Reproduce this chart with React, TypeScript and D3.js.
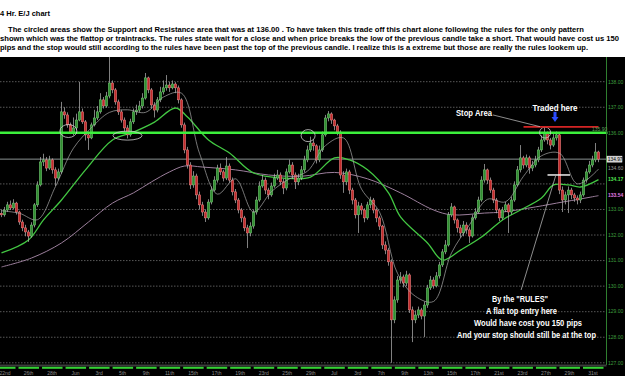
import React from "react";
import * as d3 from "d3";

// ---- OHLC data (4h candles, EUR/JPY) ----
const opens = [
  132.85,132.79,132.98,133.18,133.06,133.25,132.90,132.51,132.28,132.12,
  131.96,132.39,133.18,133.96,134.86,134.94,134.62,134.94,134.55,134.23,
  134.47,136.82,136.70,136.31,136.03,136.19,136.50,136.82,136.43,135.92,
  135.80,136.31,136.58,136.82,137.29,137.05,137.44,137.95,137.68,137.21,
  136.82,136.50,136.19,135.92,136.43,136.82,136.89,137.05,137.36,138.15,
  137.68,137.09,136.89,137.29,137.60,137.76,137.87,137.76,137.91,137.76,
  137.29,136.31,135.33,134.74,133.96,134.31,133.57,133.18,132.90,132.67,
  133.29,133.76,134.15,134.62,134.47,134.23,134.70,134.15,133.69,133.37,
  132.98,132.67,132.28,132.08,132.35,132.90,133.37,133.92,134.15,133.76,
  133.57,133.92,134.23,134.35,134.08,133.84,134.47,134.74,134.35,134.08,
  134.23,134.55,134.94,135.33,135.60,135.49,134.94,135.33,135.92,136.58,
  136.74,136.50,136.27,136.03,134.35,134.08,134.47,133.76,133.37,132.79,
  133.14,132.98,132.67,133.18,133.37,132.98,132.67,132.35,131.61,131.41,
  130.95,128.68,129.46,130.24,130.36,130.12,130.44,129.07,128.68,128.87,
  129.07,128.83,129.26,129.93,130.24,130.01,130.40,130.83,131.34,131.61,
  132.79,133.10,132.59,132.28,132.08,132.39,132.20,131.96,132.67,132.90,
  133.37,134.15,134.55,134.15,133.76,133.37,132.98,132.67,132.98,133.18,
  132.90,133.37,133.96,134.55,135.02,134.74,135.02,134.62,134.74,134.94,
  135.33,135.72,135.99,135.72,135.52,135.80,135.92,133.76,133.37,133.57,
  133.76,133.57,133.45,133.37,133.57,134.15,134.47,134.74,134.94,135.25,
];
const closes = [
  132.79,132.98,133.18,133.06,133.25,132.90,132.51,132.28,132.12,131.96,
  132.39,133.18,133.96,134.86,134.94,134.62,134.94,134.55,134.23,134.47,
  136.82,136.70,136.31,136.03,136.19,136.50,136.82,136.43,135.92,135.80,
  136.31,136.58,136.82,137.29,137.05,137.44,137.95,137.68,137.21,136.82,
  136.50,136.19,135.92,136.43,136.82,136.89,137.05,137.36,138.15,137.68,
  137.09,136.89,137.29,137.60,137.76,137.87,137.76,137.91,137.76,137.29,
  136.31,135.33,134.74,133.96,134.31,133.57,133.18,132.90,132.67,133.29,
  133.76,134.15,134.62,134.47,134.23,134.70,134.15,133.69,133.37,132.98,
  132.67,132.28,132.08,132.35,132.90,133.37,133.92,134.15,133.76,133.57,
  133.92,134.23,134.35,134.08,133.84,134.47,134.74,134.35,134.08,134.23,
  134.55,134.94,135.33,135.60,135.49,134.94,135.33,135.92,136.58,136.74,
  136.50,136.27,136.03,134.35,134.08,134.47,133.76,133.37,132.79,133.14,
  132.98,132.67,133.18,133.37,132.98,132.67,132.35,131.61,131.41,130.95,
  128.68,129.46,130.24,130.36,130.12,130.44,129.07,128.68,128.87,129.07,
  128.83,129.26,129.93,130.24,130.01,130.40,130.83,131.34,131.61,132.79,
  133.10,132.59,132.28,132.08,132.39,132.20,131.96,132.67,132.90,133.37,
  134.15,134.55,134.15,133.76,133.37,132.98,132.67,132.98,133.18,132.90,
  133.37,133.96,134.55,135.02,134.74,135.02,134.62,134.74,134.94,135.33,
  135.72,135.99,135.72,135.52,135.80,135.92,133.76,133.37,133.57,133.76,
  133.57,133.45,133.37,133.57,134.15,134.47,134.74,134.94,135.25,134.97,
];
const highs = [
  133.00,133.10,133.30,133.35,133.40,133.30,132.95,132.60,132.40,132.20,
  132.50,133.25,134.10,135.05,135.18,135.05,135.10,135.00,134.65,134.60,
  137.21,137.00,136.80,136.40,136.60,136.75,137.99,136.95,136.50,136.05,
  136.40,136.90,137.05,137.55,137.40,137.60,138.97,138.05,137.75,137.30,
  136.90,136.60,136.30,136.55,136.95,137.10,137.25,137.55,138.34,138.20,
  137.75,137.20,137.40,137.80,138.05,138.26,138.00,138.05,137.98,137.85,
  137.35,136.40,135.45,134.85,134.50,134.40,133.70,133.30,133.00,133.40,
  133.90,134.30,134.75,134.80,134.55,135.05,134.80,134.25,133.80,133.45,
  133.05,132.75,132.40,132.50,133.00,133.50,134.10,134.35,134.25,133.85,
  134.05,134.40,134.55,134.45,134.20,134.60,134.95,134.85,134.45,134.40,
  134.70,135.10,135.50,135.85,135.75,135.55,135.50,136.05,136.70,136.85,
  136.80,136.55,136.35,136.10,134.50,134.60,134.55,133.85,133.45,133.30,
  133.25,133.05,133.30,133.50,133.45,133.05,132.75,132.40,131.75,131.50,
  131.05,129.60,130.40,130.55,130.45,130.60,130.50,129.20,129.05,129.20,
  129.15,129.40,130.05,130.40,130.35,130.55,130.95,131.45,131.80,132.90,
  133.25,133.15,132.65,132.40,132.55,132.50,132.30,132.80,133.05,133.50,
  134.30,134.78,134.60,134.25,133.85,133.45,133.05,133.10,133.30,133.25,
  133.50,134.10,134.70,135.52,135.10,135.15,135.10,134.90,135.10,135.45,
  135.90,136.23,136.05,135.80,135.95,136.05,136.00,133.90,133.70,133.90,
  133.85,133.65,133.55,133.70,134.25,134.60,134.90,135.10,135.60,135.30,
];
const lows = [
  132.70,132.72,132.90,132.98,133.00,132.80,132.40,132.15,131.95,131.73,
  131.90,132.30,133.10,133.90,134.70,134.50,134.55,134.40,133.92,134.15,
  134.40,136.55,136.20,135.95,135.90,136.10,136.45,136.35,135.70,135.33,
  135.75,136.25,136.50,136.75,136.95,136.98,137.35,137.55,137.10,136.70,
  136.40,136.05,135.78,135.85,136.35,136.70,136.80,136.95,137.30,137.55,
  136.95,136.60,136.80,137.20,137.50,137.65,137.60,137.70,137.55,137.15,
  136.20,135.20,134.60,133.80,133.85,133.40,133.00,132.75,132.51,132.60,
  133.20,133.70,134.05,134.35,134.10,134.15,134.05,133.55,133.25,132.85,
  132.50,132.15,131.49,131.95,132.25,132.80,133.30,133.85,133.60,133.40,
  133.50,133.85,134.15,133.95,133.60,133.75,134.40,134.20,133.80,133.95,
  134.15,134.45,134.85,135.25,135.30,134.80,134.85,135.25,135.85,136.45,
  136.35,136.10,135.90,134.20,133.65,133.95,133.60,133.20,132.65,132.08,
  132.80,132.50,132.60,133.05,132.85,132.50,132.20,131.45,131.25,130.80,
  127.00,128.55,129.35,130.10,129.95,130.00,128.95,127.81,128.55,128.75,
  128.70,128.01,129.15,129.85,129.90,129.95,130.30,130.75,131.25,131.55,
  132.70,132.45,132.10,131.90,131.95,132.05,131.69,131.90,132.60,132.85,
  133.30,134.05,134.00,133.65,133.25,132.85,132.55,132.60,132.90,132.08,
  132.80,133.30,133.90,134.45,134.60,134.65,134.40,134.50,134.65,134.85,
  135.25,135.65,135.55,135.35,135.45,135.70,133.60,132.90,133.20,132.86,
  133.40,133.30,133.20,133.25,133.50,134.05,134.40,134.65,134.85,134.85,
];

// ---- Moving averages (candle index / price) ----
const fastMaIdx = [0,6,12,18,24,30,36,42,48,54,60,66,72,78,84,90,96,102,108,114,120,126,132,138,144,150,156,162,168,174,180,186,192,199];
const fastMaVal = [132.95,132.85,132.60,133.90,135.40,136.20,136.80,136.90,136.80,137.40,137.55,135.20,133.60,134.20,132.90,133.70,134.20,134.50,135.50,135.80,133.80,132.90,130.50,129.60,129.40,131.30,132.40,133.40,133.30,134.30,135.10,135.20,134.00,134.58];
const greenMaIdx = [0,9,14,20,28,37,44,51,58,62,69,76,84,94,103,111,116,122,129,133,142,147,153,160,167,173,180,184,189,193,199];
const greenMaVal = [131.30,131.81,132.59,133.37,134.55,135.72,136.03,136.42,136.97,136.62,135.72,135.21,134.43,134.23,134.27,135.02,134.94,134.55,133.65,132.71,131.69,131.02,131.41,131.92,132.59,132.98,133.45,133.96,133.96,133.88,134.17];
const slowMaIdx = [0,10,20,29,37,44,50,56,61,67,78,89,100,111,122,133,144,150,161,167,178,187,191,199];
const slowMaVal = [130.75,131.10,131.69,132.51,133.25,133.65,134.08,134.47,134.70,134.66,134.55,134.35,134.30,134.45,134.20,133.65,132.98,132.79,132.86,132.90,133.10,133.29,133.37,133.54];

// ---- Axis labels ----
const gridTicks = [127,128,129,130,131,132,133,134,136,137,138];
const labelTicks = [127,128,129,130,131,132,133,136,137,138];
const dateLabels = ["22nd","26th","28th","Jun","3rd","5th","9th","11th","15th","17th","19th","23rd","25th","29th","Jul","3rd","7th","9th","13th","15th","17th","21st","23rd","27th","29th","31st"];

// ---- Key levels ----
const supportLevel = 136.0;
const currentPrice = 134.97;
const stopLevel = 136.23;
const flatTopLevel = 134.35;

const titleText = "4 Hr. E/J chart";
const paragraph = [
  "The circled areas show the Support and Resistance area that was at 136.00 . To have taken this trade off this chart alone following the rules for the only pattern",
  "shown which was the flattop or traintracks.  The rules state wait for a close and when price breaks the low of the previous candle take a short. That would have cost us 150",
  "pips and the stop would still according to the rules have been past the top of the previous candle. I realize this is a extreme but those are really the rules lookem up.",
];
const rulesText = ["By the \"RULES\"", "A flat top entry here", "Would have cost you 150 pips", "And your stop should still be at the top"];

export default function App() {
  const W = 625, H = 376;
  const chartTop = 57;
  const axisX = 606.5;
  const n = closes.length;
  const x = d3.scaleLinear().domain([0, n - 1]).range([1.5, 598.5]);
  const y = d3.scaleLinear().domain([127, 138]).range([362.8, 81.7]);
  const dx = d3.scaleLinear().domain([0, dateLabels.length - 1]).range([5, 593]);
  const bw = 2.3;
  const font = "'Liberation Sans', Arial, sans-serif";

  const line = d3
    .line<[number, number]>()
    .x((d) => x(d[0]))
    .y((d) => y(d[1]))
    .curve(d3.curveCatmullRom.alpha(0.5));
  const fastPath = line(fastMaIdx.map((v, i) => [v, fastMaVal[i]]) as [number, number][]) || "";
  const greenPath = line(greenMaIdx.map((v, i) => [v, greenMaVal[i]]) as [number, number][]) || "";
  const slowPath = line(slowMaIdx.map((v, i) => [v, slowMaVal[i]]) as [number, number][]) || "";

  const circles = [
    { i: 22.3, p: 136.07, rx: 8.5, ry: 6.5 },
    { i: 42, p: 135.89, rx: 14.5, ry: 4.5 },
    { i: 102.2, p: 135.89, rx: 7, ry: 6 },
    { i: 181.2, p: 136.01, rx: 5.5, ry: 5.5 },
  ];

  const arrowX = x(184.5);
  const arrowTop = y(136.82);
  const arrowBot = y(136.42);

  return (
    <svg
      width={W}
      height={H}
      style={{ position: "fixed", left: 0, top: 0, background: "#fff" }}
      fontFamily={font}
    >
      {/* header text */}
      <text x={0} y={16} fontSize={8} fontWeight="bold" fill="#000" textLength={50} lengthAdjust="spacingAndGlyphs">
        {titleText}
      </text>
      <text x={8} y={32} fontSize={7.6} fontWeight="bold" fill="#000" textLength={576} lengthAdjust="spacingAndGlyphs">
        {paragraph[0]}
      </text>
      <text x={0} y={41} fontSize={7.6} fontWeight="bold" fill="#000" textLength={619} lengthAdjust="spacingAndGlyphs">
        {paragraph[1]}
      </text>
      <text x={0} y={50} fontSize={7.6} fontWeight="bold" fill="#000" textLength={588} lengthAdjust="spacingAndGlyphs">
        {paragraph[2]}
      </text>

      {/* chart background */}
      <rect x={0} y={chartTop} width={W} height={H - chartTop} fill="#000" />

      {/* gridlines */}
      {gridTicks.map((p) => (
        <line key={"g" + p} x1={0} x2={axisX} y1={y(p)} y2={y(p)} stroke="#6e6e6e" strokeWidth={0.8} strokeDasharray="1.5 1.5" />
      ))}
      <line x1={0} x2={axisX} y1={y(currentPrice)} y2={y(currentPrice)} stroke="#9aa3a3" strokeWidth={0.9} />

      {/* moving averages */}
      <path d={slowPath} fill="none" stroke="#9c7f9c" strokeWidth={1} />
      <path d={greenPath} fill="none" stroke="#43c843" strokeWidth={1.3} />

      {/* candles */}
      {closes.map((c, i) => {
        const o = opens[i];
        const up = c >= o;
        const yt = y(Math.max(o, c));
        const yb = y(Math.min(o, c));
        const cx = x(i);
        return (
          <g key={"c" + i}>
            <line x1={cx} x2={cx} y1={y(highs[i])} y2={y(lows[i])} stroke="#b8b8b8" strokeWidth={0.7} />
            <rect
              x={cx - bw / 2}
              y={yt}
              width={bw}
              height={Math.max(1, yb - yt)}
              fill={up ? "#2f8f2f" : "#c42a2a"}
              stroke={up ? "#7ed07e" : "#ef8d8d"}
              strokeWidth={0.5}
            />
          </g>
        );
      })}

      <path d={fastPath} fill="none" stroke="#a9a9a9" strokeWidth={0.7} />

      {/* support / resistance */}
      <line x1={0} x2={axisX + 1} y1={y(supportLevel)} y2={y(supportLevel)} stroke="#3cf03c" strokeWidth={2.6} />

      {/* circles */}
      {circles.map((c, k) => (
        <ellipse key={"e" + k} cx={x(c.i)} cy={y(c.p)} rx={c.rx} ry={c.ry} fill="none" stroke="#cfcfcf" strokeWidth={0.8} />
      ))}

      {/* stop area */}
      <line x1={x(174)} x2={x(199)} y1={y(stopLevel)} y2={y(stopLevel)} stroke="#d42424" strokeWidth={1.8} />
      <line x1={x(163.8)} y1={y(136.7)} x2={x(179.5)} y2={y(136.24)} stroke="#c8c8c8" strokeWidth={0.7} />
      <text x={474} y={116} fontSize={8.2} fontWeight="bold" fill="#fff" textAnchor="middle" textLength={36} lengthAdjust="spacingAndGlyphs">
        Stop Area
      </text>
      <text x={555} y={111} fontSize={8.2} fontWeight="bold" fill="#fff" textAnchor="middle" textLength={45} lengthAdjust="spacingAndGlyphs">
        Traded here
      </text>
      <rect x={arrowX - 1.5} y={arrowTop} width={3} height={(arrowBot - arrowTop) * 0.5} fill="#2a4cff" />
      <path
        d={`M${arrowX - 3.5},${arrowTop + (arrowBot - arrowTop) * 0.5} L${arrowX + 3.5},${arrowTop + (arrowBot - arrowTop) * 0.5} L${arrowX},${arrowBot} Z`}
        fill="#2a4cff"
      />

      {/* flat top */}
      <line x1={x(182)} x2={x(189.5)} y1={y(flatTopLevel)} y2={y(flatTopLevel)} stroke="#ffffff" strokeWidth={1.4} />
      <line x1={x(173.2)} y1={y(129.85)} x2={x(184.7)} y2={y(134.31)} stroke="#c8c8c8" strokeWidth={0.7} />
      {rulesText.map((t, k) => (
        <text
          key={"r" + k}
          x={[520, 521.5, 528, 526.5][k]}
          y={[302, 313.5, 325.5, 338][k]}
          fontSize={8.2}
          fontWeight="bold"
          fill="#fff"
          textAnchor="middle"
          textLength={[56, 71, 108, 139][k]}
          lengthAdjust="spacingAndGlyphs"
        >
          {t}
        </text>
      ))}

      {/* right price axis */}
      <line x1={axisX} x2={axisX} y1={chartTop} y2={365} stroke="#2f7f2f" strokeWidth={1} />
      {labelTicks.map((p) => (
        <text key={"t" + p} x={608} y={y(p) + 1.8} fontSize={5} fill="#3e9e3e">
          {p.toFixed(2)}
        </text>
      ))}
      <text x={592} y={y(supportLevel) - 1.8} fontSize={5} fill="#5aa05a">135.90</text>
      <rect x={607} y={y(currentPrice) - 3} width={15} height={6} fill="#cfcfcf" stroke="#ffffff" strokeWidth={0.5} />
      <text x={607.8} y={y(currentPrice) + 1.8} fontSize={4.8} fill="#000">{currentPrice.toFixed(2)}</text>
      <text x={608} y={y(134.6) + 1.8} fontSize={5} fill="#9a9a9a">134.60</text>
      <text x={608} y={y(134.17) + 1.8} fontSize={5} fontWeight="bold" fill="#4fe04f">134.17</text>
      <text x={608} y={y(133.54) + 1.8} fontSize={5} fontWeight="bold" fill="#e07ae0">133.54</text>

      {/* bottom date axis */}
      <rect x={0} y={364.5} width={axisX} height={2} fill="#3c3c3c" />
      {dateLabels.map((d, k) => (
        <rect key={"s" + k} x={dx(k) - 10} y={366.8} width={20.5} height={2} fill="#34d234" />
      ))}
      {dateLabels.map((d, k) => (
        <text key={"d" + k} x={dx(k)} y={374.5} fontSize={5} fill="#8c8c8c" textAnchor="middle">
          {d}
        </text>
      ))}
    </svg>
  );
}
